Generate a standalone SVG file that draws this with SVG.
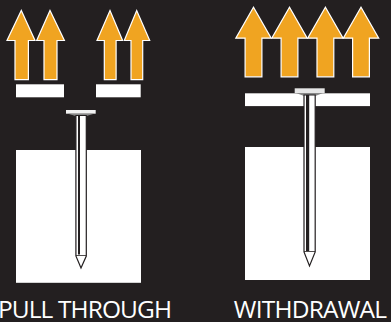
<svg xmlns="http://www.w3.org/2000/svg" width="391" height="322" viewBox="0 0 391 322">
<defs>
<style>
.arrow{fill:#f0a421;stroke:#fff;stroke-width:1.2}
.block{fill:#fff}
.label{font-family:"Open Sans","Liberation Sans",sans-serif;font-size:24.500px;fill:#fff;text-anchor:middle}
.shaft{fill:#fff;stroke:#231f20;stroke-width:1.200}
.core{fill:#231f20}
</style>
<path id="wa" class="arrow" d="M-8.400 0V-38.600H-17.700L0 -69.600L17.700 -38.600H8.400V0Z"/>
</defs>
<rect width="391" height="322" fill="#231f20"/>
<g id="pull-through">
<g id="pt-arrows">
<path class="arrow" d="M15 79.700V40.500H7L21.300 10.500L35 40.500H28.400V79.700Z"/>
<path class="arrow" d="M44 79.700V40.500H36.700L50 10.500L64.400 40.500H57V79.700Z"/>
<path class="arrow" d="M104.300 79.700V40.500H97L110 10.500L122.600 40.500H116.100V79.700Z"/>
<path class="arrow" d="M131 79.700V40.500H124.300L136.700 10.500L149.700 40.500H142.700V79.700Z"/>
</g>
<rect class="block" x="16" y="84.300" width="48" height="13"/>
<rect class="block" x="96" y="84.300" width="44.700" height="13"/>
<rect class="block" x="16" y="150" width="125" height="132.800"/>
<g id="pt-nail">
<rect x="66" y="110" width="29.700" height="3.700" fill="#f2f2f2"/>
<path d="M68 113.700H94L86.500 116H75.500Z" fill="#888"/>
<path class="shaft" d="M75.900 115.500H86.300V256L81 268L75.900 256Z"/>
<rect class="core" x="78" y="115.500" width="2" height="139"/>
<path d="M76 255.500H86" stroke="#231f20" stroke-width=".8"/>
</g>
<text class="label" style="letter-spacing:-.9px" x="84.500" y="317.700">PULL THROUGH</text>
</g>
<g id="withdrawal">
<g id="wd-arrows">
<use href="#wa" x="253.500" y="76.800"/>
<use href="#wa" x="289.500" y="76.800"/>
<use href="#wa" x="325.400" y="76.800"/>
<use href="#wa" x="361" y="76.800"/>
</g>
<rect class="block" x="245" y="93.300" width="125" height="12.800"/>
<rect class="block" x="245" y="147" width="125" height="133"/>
<g id="wd-nail">
<rect x="294.700" y="88.300" width="30" height="4.700" fill="#e6e6e6"/>
<path d="M296 93H323L316 95.700H303.500Z" fill="#888"/>
<path class="shaft" d="M304 95H315.200V252L309.500 266L304 252Z"/>
<rect class="core" x="306" y="95" width="3.200" height="156"/>
<path d="M304 251.500H315" stroke="#231f20" stroke-width=".8"/>
</g>
<text class="label" style="letter-spacing:-.8px" x="310" y="317.700">WITHDRAWAL</text>
</g>
</svg>
